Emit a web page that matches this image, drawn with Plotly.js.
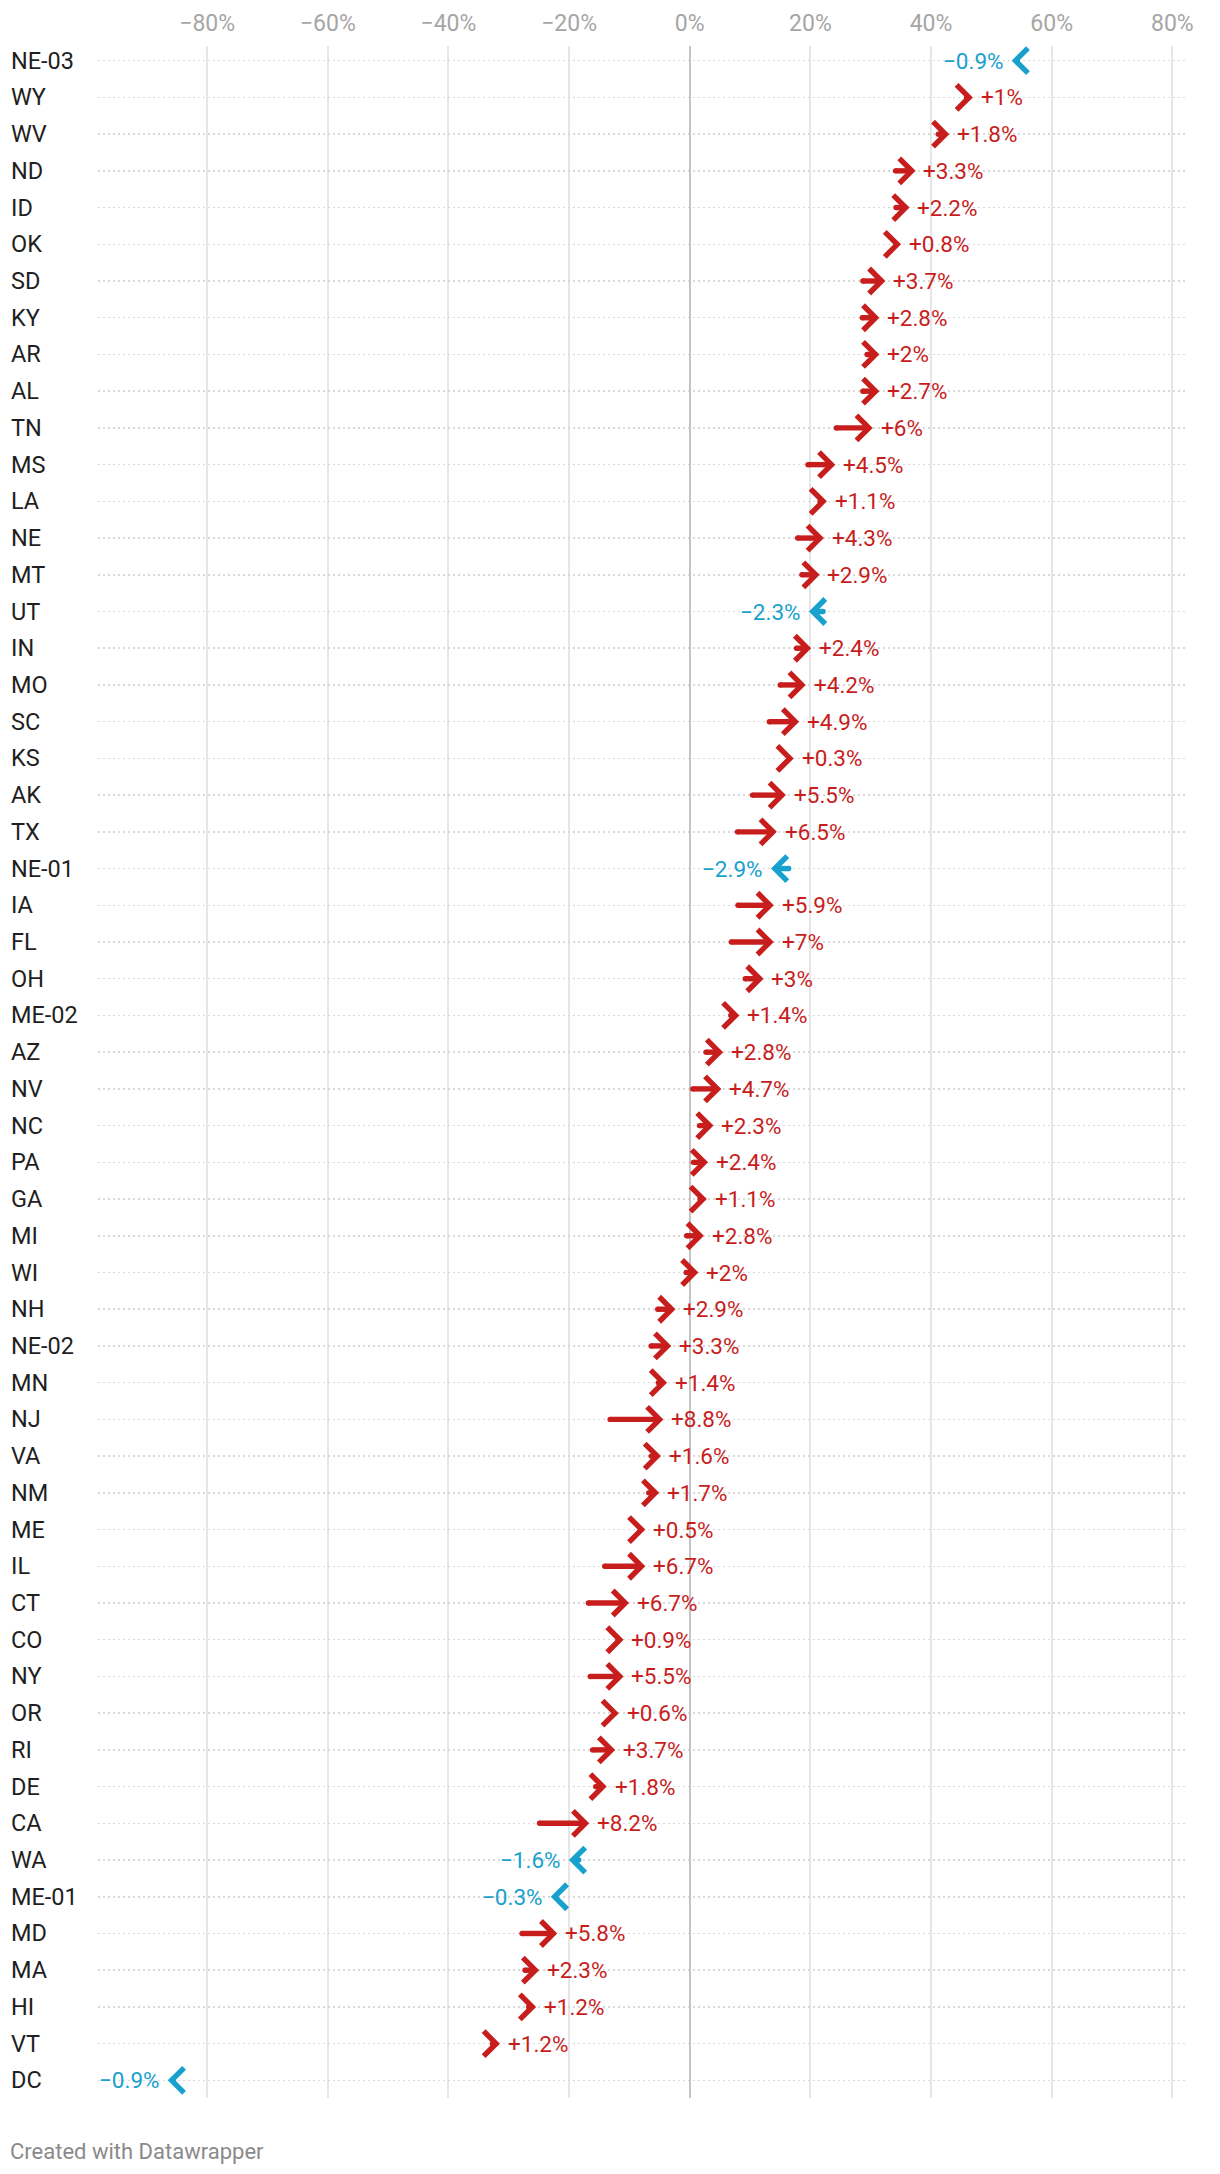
<!DOCTYPE html>
<html>
<head>
<meta charset="utf-8">
<script src="https://cdn.plot.ly/plotly-3.0.1.min.js"></script>
<style>
  html, body { margin: 0; padding: 0; background: #ffffff; }
  #chart { width: 1220px; height: 2174px; }
</style>
</head>
<body>
<div id="chart"></div>
<script>
// ---------------- DATA ----------------
const categories = ["NE-03","WY","WV","ND","ID","OK","SD","KY","AR","AL","TN","MS","LA","NE","MT","UT","IN","MO","SC","KS","AK","TX","NE-01","IA","FL","OH","ME-02","AZ","NV","NC","PA","GA","MI","WI","NH","NE-02","MN","NJ","VA","NM","ME","IL","CT","CO","NY","OR","RI","DE","CA","WA","ME-01","MD","MA","HI","VT","DC"];

// arrow start (earlier value, %)
const startValues = [54.3,45.9,41.2,34.1,34.2,34.2,28.7,28.6,29.4,28.7,24.3,19.6,21.6,17.9,18.6,22.1,17.7,15.0,13.2,16.9,10.4,7.9,16.4,8.0,6.9,9.2,6.8,2.7,0.5,1.6,0.6,1.7,-0.5,-0.6,-5.3,-6.4,-5.2,-13.2,-6.4,-6.8,-7.9,-14.1,-16.8,-11.9,-16.5,-12.4,-16.1,-15.6,-24.9,-18.4,-22.7,-27.8,-27.3,-26.7,-32.7,-85.6];

// arrow end (later value, %)
const endValues = [53.4,46.9,43.0,37.4,36.4,35.0,32.4,31.4,31.4,31.4,30.3,24.1,22.7,22.2,21.5,19.8,20.1,19.2,18.1,17.2,15.9,14.4,13.5,13.9,13.9,12.2,8.2,5.5,5.2,3.9,3.0,2.8,2.3,1.4,-2.4,-3.1,-3.8,-4.4,-4.8,-5.1,-7.4,-7.4,-10.1,-11.0,-11.0,-11.8,-12.4,-13.8,-16.7,-20.0,-23.0,-22.0,-25.0,-25.5,-31.5,-86.5];

// change labels (%)
const changeValues = [-0.9,1,1.8,3.3,2.2,0.8,3.7,2.8,2,2.7,6,4.5,1.1,4.3,2.9,-2.3,2.4,4.2,4.9,0.3,5.5,6.5,-2.9,5.9,7,3,1.4,2.8,4.7,2.3,2.4,1.1,2.8,2,2.9,3.3,1.4,8.8,1.6,1.7,0.5,6.7,6.7,0.9,5.5,0.6,3.7,1.8,8.2,-1.6,-0.3,5.8,2.3,1.2,1.2,-0.9];

const tickValues = [-80,-60,-40,-20,0,20,40,60,80];
const tickLabels = ["\u221280%","\u221260%","\u221240%","\u221220%","0%","20%","40%","60%","80%"];

// ---------------- LAYOUT CONSTANTS ----------------
const W = 1220, H = 2174;
const M = {l: 98, r: 32, t: 46, b: 76};
const XR = [-98.1, 82.6];
const YR = [55.48, -0.40];
const pxX = (W - M.l - M.r) / (XR[1] - XR[0]);
const pxY = (H - M.t - M.b) / (YR[0] - YR[1]);

const RED = '#c71e1d', BLUE = '#18a1cd';
const APEX_BACK = 3.6;   // px from outer tip to chevron centre apex
const ARM = 12.5;        // px arm length (each direction)
const LW = 5.4;

const sets = {
  up:   {shaftX: [], shaftY: [], capX: [], capY: [], chevX: [], chevY: []},
  down: {shaftX: [], shaftY: [], capX: [], capY: [], chevX: [], chevY: []}
};

const annotations = [];
const rowIdx = categories.map((c, i) => i);

categories.forEach((cat, i) => {
  const s = startValues[i], e = endValues[i], ch = changeValues[i];
  const dir = ch >= 0 ? 1 : -1;
  const set = dir > 0 ? sets.up : sets.down;
  const y = rowIdx[i];
  const apex = e - dir * APEX_BACK / pxX;
  if ((apex - s) * dir > 1 / pxX) {
    set.shaftX.push(s, apex, null);
    set.shaftY.push(y, y, null);
    set.capX.push(s);
    set.capY.push(y);
  }
  const back = apex - dir * ARM / pxX;
  set.chevX.push(back, apex, back, null);
  set.chevY.push(y - ARM / pxY, y, y + ARM / pxY, null);

  const txt = (ch > 0 ? '+' : '\u2212') + Math.abs(ch) + '%';
  annotations.push({
    x: e, y: y, xref: 'x', yref: 'y', text: txt, showarrow: false,
    xanchor: dir > 0 ? 'left' : 'right', yanchor: 'middle',
    xshift: dir > 0 ? 6 : -6,
    font: {family: 'Roboto, sans-serif', size: 22.5, color: dir > 0 ? RED : BLUE}
  });
  annotations.push({
    x: (9 - M.l) / (W - M.l - M.r), xref: 'paper', y: y, yref: 'y',
    text: cat, showarrow: false, xanchor: 'left', yanchor: 'middle',
    font: {family: 'Roboto, sans-serif', size: 23.5, color: '#1f1f1f'}
  });
});

annotations.push({
  x: (8 - M.l) / (W - M.l - M.r), xref: 'paper',
  y: (H - M.b - 2151) / (H - M.t - M.b), yref: 'paper',
  text: 'Created with Datawrapper', showarrow: false,
  xanchor: 'left', yanchor: 'middle',
  font: {family: 'Roboto, sans-serif', size: 22, color: '#8a8a8a'}
});

function traces(set, color) {
  return [
    {x: set.shaftX, y: set.shaftY, type: 'scatter', mode: 'lines',
     line: {color: color, width: LW}, hoverinfo: 'skip', showlegend: false, cliponaxis: false},
    {x: set.capX, y: set.capY, type: 'scatter', mode: 'markers',
     marker: {color: color, size: LW, line: {width: 0}}, hoverinfo: 'skip', showlegend: false, cliponaxis: false},
    {x: set.chevX, y: set.chevY, type: 'scatter', mode: 'lines',
     line: {color: color, width: LW}, hoverinfo: 'skip', showlegend: false, cliponaxis: false}
  ];
}

const data = [].concat(traces(sets.up, RED), traces(sets.down, BLUE));

const layout = {
  width: W, height: H,
  margin: M,
  paper_bgcolor: '#ffffff', plot_bgcolor: '#ffffff',
  showlegend: false,
  font: {family: 'Roboto, sans-serif'},
  xaxis: {
    range: XR, side: 'top', fixedrange: true,
    tickvals: tickValues, ticktext: tickLabels, ticks: '',
    tickfont: {family: 'Roboto, sans-serif', size: 23, color: '#a6a6a6'},
    ticklabelstandoff: 9,
    showgrid: true, gridcolor: '#e6e6e6', gridwidth: 2,
    zeroline: true, zerolinecolor: '#c4c4c4', zerolinewidth: 2,
    showline: false
  },
  yaxis: {
    range: YR, fixedrange: true,
    tickvals: rowIdx, showticklabels: false, ticks: '',
    showgrid: true, gridcolor: '#d9d9d9', gridwidth: 1.5, griddash: '2px,3px',
    zeroline: false, showline: false
  },
  annotations: annotations
};

Plotly.newPlot('chart', data, layout, {displayModeBar: false, staticPlot: true});
</script>
</body>
</html>
